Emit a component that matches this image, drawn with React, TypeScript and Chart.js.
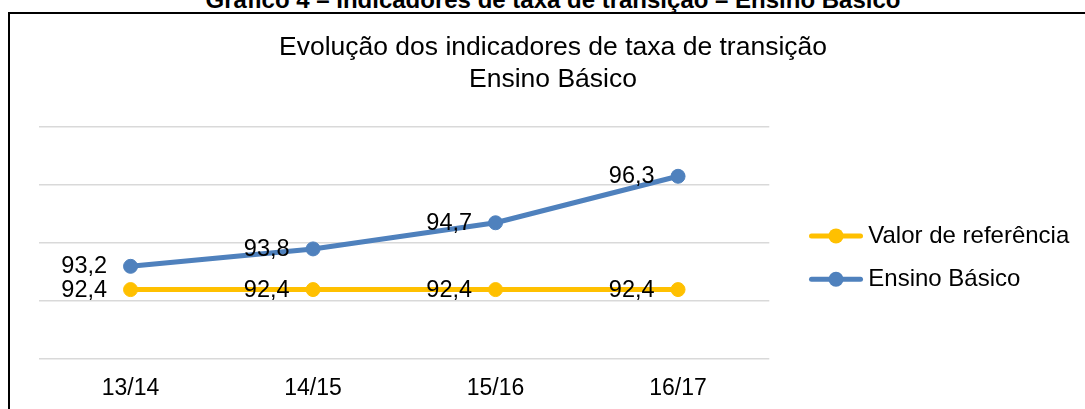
import React, { useEffect, useRef } from 'react';
import { Chart, registerables } from 'chart.js';

Chart.register(...registerables);

const categories = ['13/14', '14/15', '15/16', '16/17'];
const valorReferencia = [92.4, 92.4, 92.4, 92.4];
const ensinoBasico = [93.2, 93.8, 94.7, 96.3];
const seriesLabels = ['Valor de referência', 'Ensino Básico'];
const seriesColors = ['#FFC000', '#4F81BD'];
const yMin = 90;
const yMax = 98;
const yStep = 2;
const chartTitle = ['Evolução dos indicadores de taxa de transição', 'Ensino Básico'];
const figureCaption = 'Gráfico 4 – Indicadores de taxa de transição – Ensino Básico';

const FONT = '"Liberation Sans", Arial, Helvetica, sans-serif';
const CANVAS_W = 1106;
const CANVAS_H = 425;

const fmt = (v: number) => v.toFixed(1).replace('.', ',');

const dataLabels = {
  id: 'dataLabels',
  afterDatasetsDraw(chart: any) {
    const ctx = chart.ctx;
    ctx.save();
    ctx.font = `23.5px ${FONT}`;
    ctx.fillStyle = '#000';
    ctx.textAlign = 'right';
    ctx.textBaseline = 'middle';
    chart.data.datasets.forEach((ds: any, i: number) => {
      const meta = chart.getDatasetMeta(i);
      meta.data.forEach((pt: any, j: number) => {
        ctx.fillText(fmt(ds.data[j]), pt.x - 23.5, pt.y + 0.5);
      });
    });
    ctx.restore();
  },
};

const sideLegend = {
  id: 'sideLegend',
  afterDraw(chart: any) {
    const { ctx, chartArea } = chart;
    const x0 = chartArea.right + 42.2;
    const x1 = chartArea.right + 91.2;
    const cx = (x0 + x1) / 2;
    chart.data.datasets.forEach((ds: any, i: number) => {
      const y = chartArea.top + 109 + i * 43.3;
      ctx.save();
      ctx.strokeStyle = ds.borderColor;
      ctx.lineWidth = 5;
      ctx.lineCap = 'round';
      ctx.beginPath();
      ctx.moveTo(x0, y);
      ctx.lineTo(x1, y);
      ctx.stroke();
      ctx.fillStyle = ds.pointBackgroundColor;
      ctx.beginPath();
      ctx.arc(cx, y, 7.5, 0, Math.PI * 2);
      ctx.fill();
      ctx.font = `24px ${FONT}`;
      ctx.fillStyle = '#000';
      ctx.textAlign = 'left';
      ctx.textBaseline = 'middle';
      ctx.fillText(ds.label, chartArea.right + 99, y + 0.5);
      ctx.restore();
    });
  },
};

export default function App() {
  const canvasRef = useRef<HTMLCanvasElement | null>(null);

  useEffect(() => {
    if (!canvasRef.current) return;
    const series = [valorReferencia, ensinoBasico];
    const chart = new Chart(canvasRef.current, {
      type: 'line',
      data: {
        labels: categories,
        datasets: series.map((d, i) => ({
          label: seriesLabels[i],
          data: d,
          borderColor: seriesColors[i],
          backgroundColor: seriesColors[i],
          pointBackgroundColor: seriesColors[i],
          pointBorderColor: seriesColors[i],
          borderWidth: 5,
          pointRadius: 7,
          pointBorderWidth: 1,
          pointHoverRadius: 7,
          borderCapStyle: 'round',
          borderJoinStyle: 'round',
          tension: 0,
          fill: false,
          yAxisID: 'y',
        })),
      },
      options: {
        animation: false,
        responsive: false,
        devicePixelRatio: 1,
        events: [],
        layout: { padding: { left: 0, right: 0, top: 0, bottom: 7.7 } },
        plugins: {
          legend: { display: false },
          tooltip: { enabled: false },
          title: {
            display: true,
            text: chartTitle,
            color: '#000',
            font: { family: FONT, size: 26.5, weight: 'normal', lineHeight: 32 / 26.5 },
            padding: { top: 32, bottom: 30.9 },
          },
        },
        scales: {
          x: {
            type: 'category',
            offset: true,
            grid: { display: false, drawTicks: false },
            border: { display: false },
            ticks: {
              color: '#000',
              font: { family: FONT, size: 23, lineHeight: 1.2 },
              padding: 15.2,
              maxRotation: 0,
              autoSkip: false,
            },
          },
          y: {
            type: 'linear',
            position: 'left',
            min: yMin,
            max: yMax,
            ticks: { display: false, stepSize: yStep },
            grid: { color: '#D9D9D9', lineWidth: 1.6, drawTicks: false },
            border: { display: false },
            afterFit: (s: any) => {
              s.width = 39.3;
            },
          },
          yRight: {
            type: 'linear',
            position: 'right',
            display: true,
            ticks: { display: false },
            grid: { display: false, drawTicks: false },
            border: { display: false },
            afterFit: (s: any) => {
              s.width = CANVAS_W - 769.3;
            },
          },
        },
      },
      plugins: [dataLabels, sideLegend],
    } as any);
    return () => chart.destroy();
  }, []);

  return (
    <div
      style={{
        position: 'fixed',
        left: 0,
        top: 0,
        width: 1085,
        height: 409,
        overflow: 'hidden',
        background: '#fff',
      }}
    >
      <div
        style={{
          position: 'absolute',
          left: 0,
          top: -12.3,
          width: CANVAS_W,
          textAlign: 'center',
          fontFamily: FONT,
          fontWeight: 'bold',
          fontSize: 24,
          lineHeight: '24px',
          color: '#000',
          whiteSpace: 'nowrap',
        }}
      >
        {figureCaption}
      </div>
      <div
        style={{
          position: 'absolute',
          left: 8,
          top: 12,
          width: 1200,
          height: 600,
          borderTop: '2px solid #000',
          borderLeft: '2px solid #000',
          boxSizing: 'border-box',
        }}
      />
      <canvas
        ref={canvasRef}
        width={CANVAS_W}
        height={CANVAS_H}
        style={{ position: 'absolute', left: 0, top: 0, width: CANVAS_W, height: CANVAS_H }}
      />
    </div>
  );
}
